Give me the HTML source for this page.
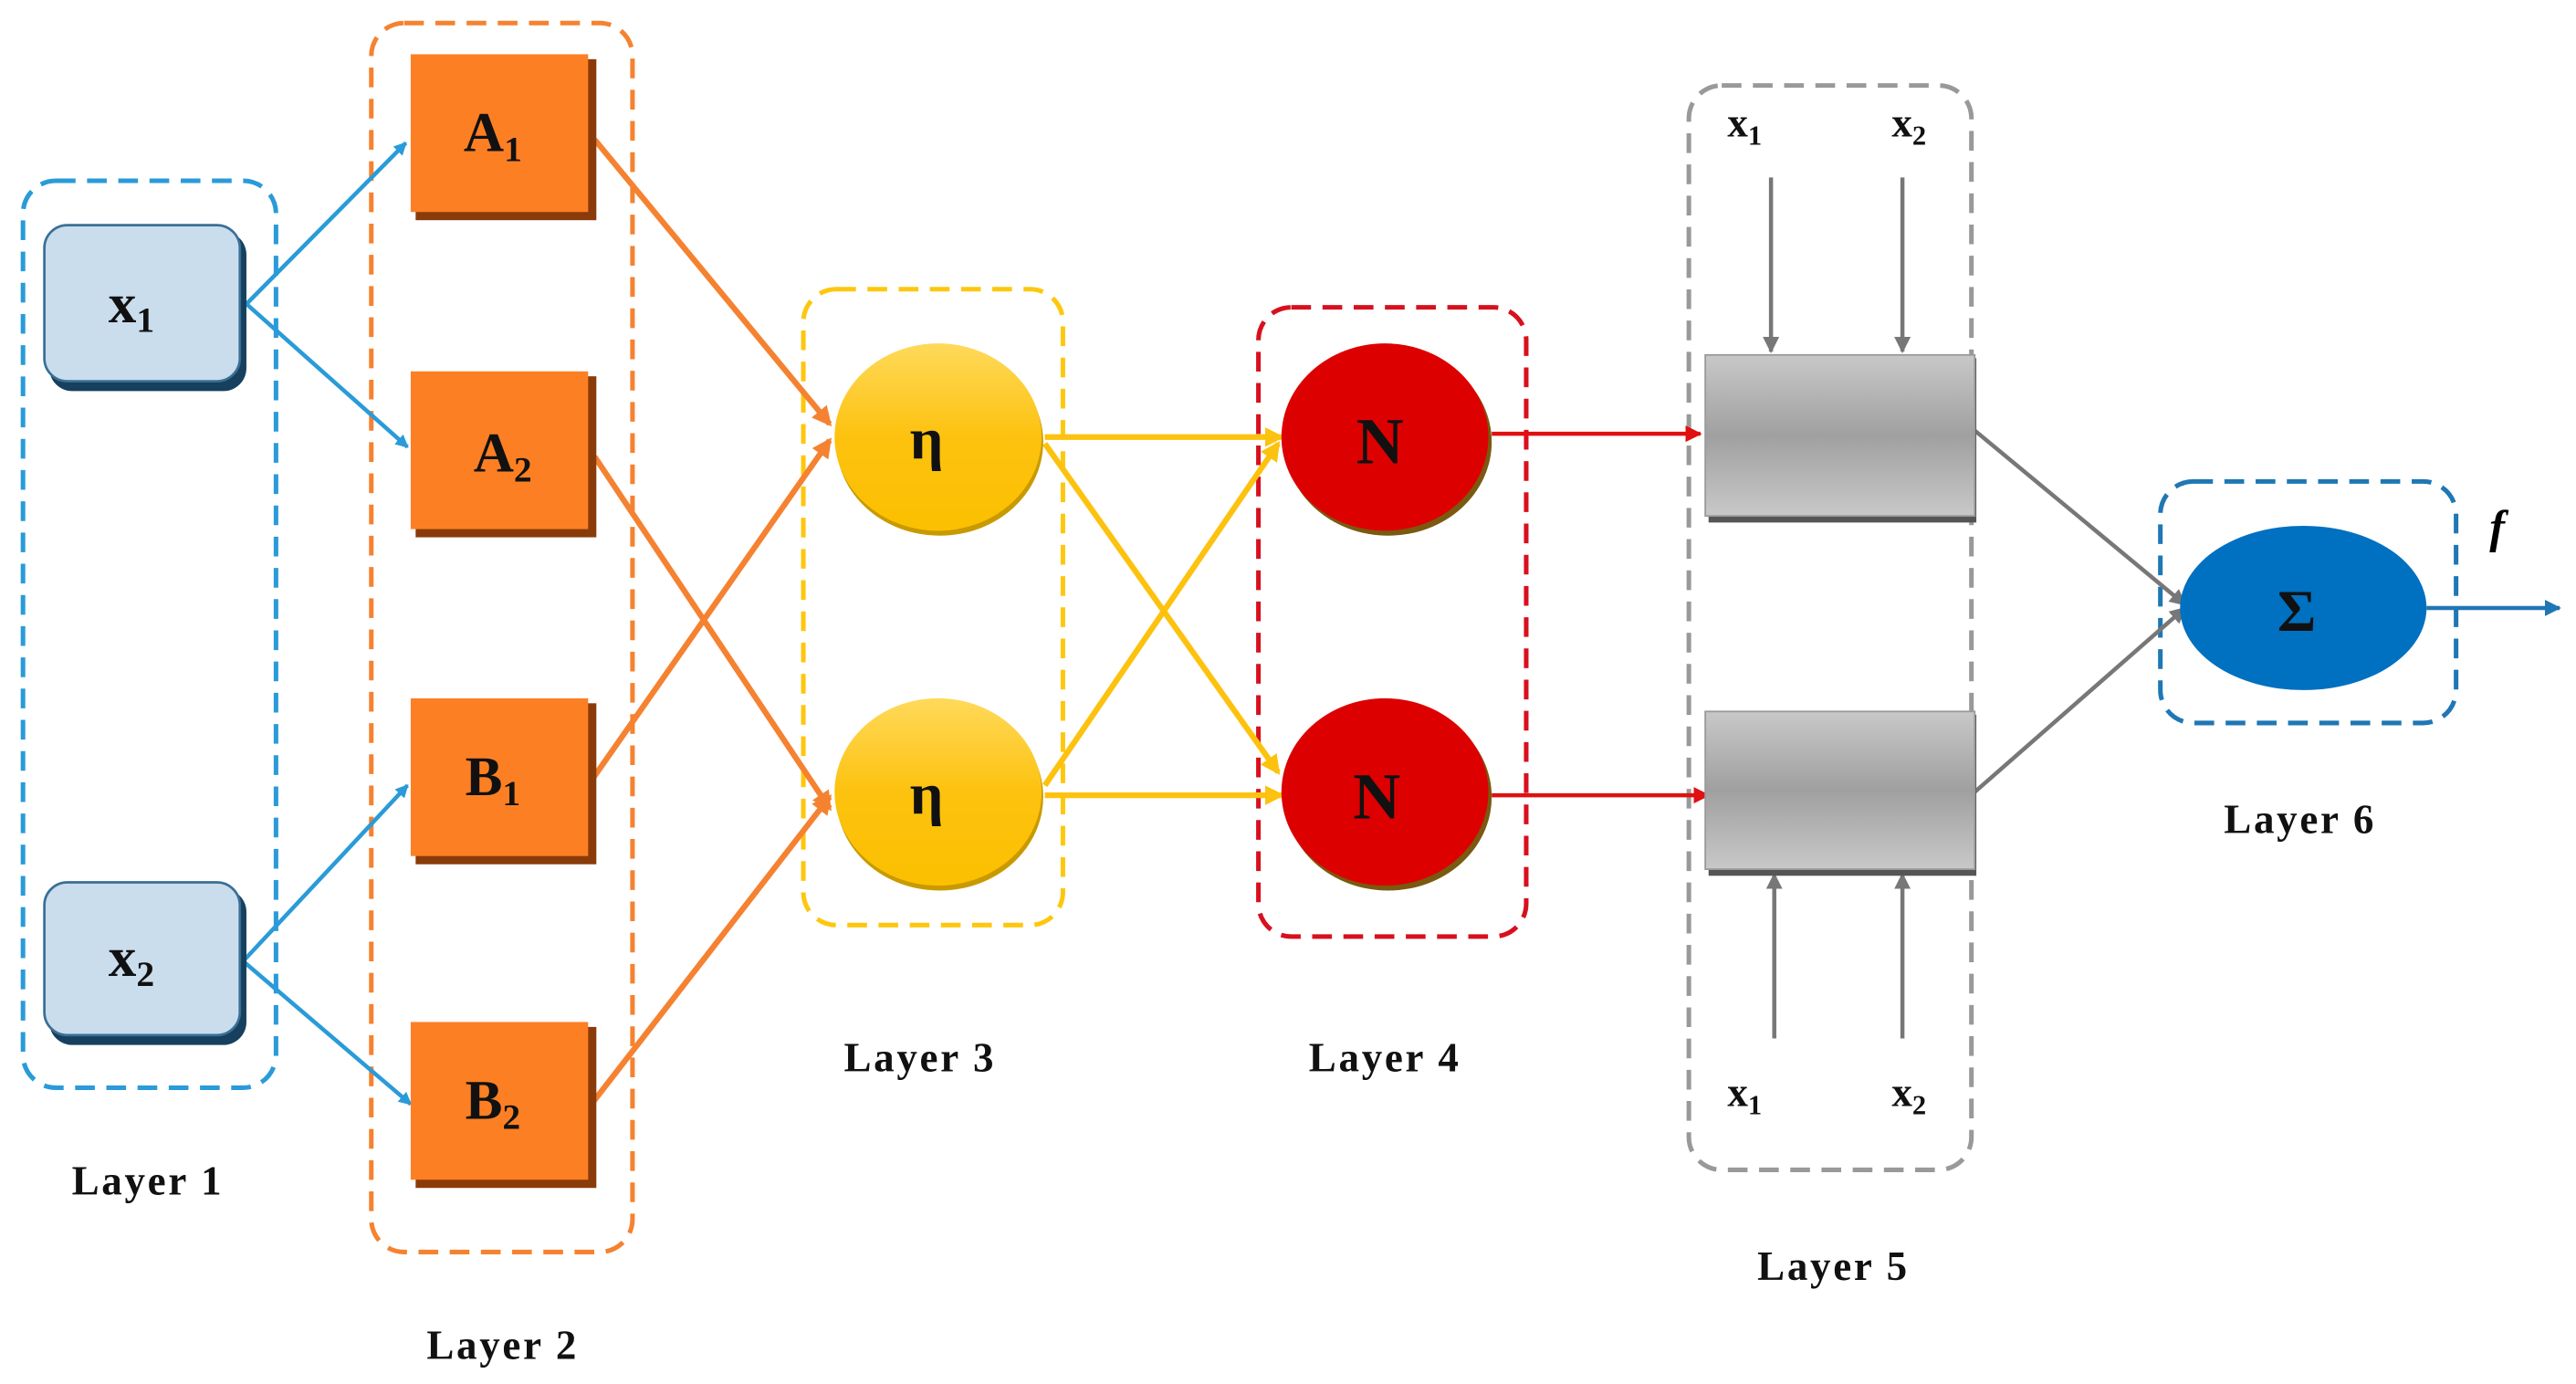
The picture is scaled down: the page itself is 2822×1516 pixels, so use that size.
<!DOCTYPE html>
<html><head><meta charset="utf-8"><style>html,body{margin:0;padding:0;background:#fff}svg{display:block}</style></head>
<body>
<svg width="2822" height="1516" viewBox="0 0 1568 842.3" xmlns="http://www.w3.org/2000/svg" font-family="Liberation Serif, serif" font-weight="bold">
<defs>
<marker id="ab" markerWidth="8" markerHeight="8" refX="7" refY="4" orient="auto" markerUnits="userSpaceOnUse"><path d="M0,0 L8,4 L0,8 z" fill="#2a9bd8"/></marker>
<marker id="ao" markerWidth="12" markerHeight="12" refX="10" refY="6" orient="auto" markerUnits="userSpaceOnUse"><path d="M0,0 L12,6 L0,12 z" fill="#f58231"/></marker>
<marker id="ay" markerWidth="12" markerHeight="12" refX="10" refY="6" orient="auto" markerUnits="userSpaceOnUse"><path d="M0,0 L12,6 L0,12 z" fill="#fdc20f"/></marker>
<marker id="ar" markerWidth="10" markerHeight="10" refX="9" refY="5" orient="auto" markerUnits="userSpaceOnUse"><path d="M0,0 L10,5 L0,10 z" fill="#e01010"/></marker>
<marker id="ag" markerWidth="10" markerHeight="10" refX="9" refY="5" orient="auto" markerUnits="userSpaceOnUse"><path d="M0,0 L10,5 L0,10 z" fill="#777"/></marker>
<marker id="ad" markerWidth="10" markerHeight="10" refX="9" refY="5" orient="auto" markerUnits="userSpaceOnUse"><path d="M0,0 L10,5 L0,10 z" fill="#1f77b4"/></marker>
<linearGradient id="gy" x1="0" y1="0" x2="0" y2="1"><stop offset="0" stop-color="#ffd95a"/><stop offset="0.5" stop-color="#fdc20f"/><stop offset="1" stop-color="#fbc000"/></linearGradient>
<linearGradient id="gg" x1="0" y1="0" x2="0" y2="1"><stop offset="0" stop-color="#c8c8c8"/><stop offset="0.5" stop-color="#a0a0a0"/><stop offset="1" stop-color="#c8c8c8"/></linearGradient>
</defs>
<g fill="none" stroke-width="2.8" stroke-dasharray="12,7">
<rect x="14" y="110" width="154" height="552" rx="20" stroke="#2a9bd8"/>
<rect x="226" y="14" width="159" height="748" rx="20" stroke="#f58231"/>
<rect x="489" y="176" width="158" height="387" rx="20" stroke="#fdc70f"/>
<rect x="766" y="187" width="163" height="383" rx="20" stroke="#d8101e"/>
<rect x="1028" y="52" width="172" height="660" rx="20" stroke="#999"/>
<rect x="1315" y="293" width="180" height="147" rx="20" stroke="#1f77b4"/>
</g>
<g stroke-width="2.5" fill="none">
<line x1="150" y1="185" x2="247" y2="87" stroke="#2a9bd8" marker-end="url(#ab)"/>
<line x1="150" y1="185" x2="248" y2="272" stroke="#2a9bd8" marker-end="url(#ab)"/>
<line x1="148" y1="585" x2="248" y2="478" stroke="#2a9bd8" marker-end="url(#ab)"/>
<line x1="148" y1="585" x2="250" y2="672" stroke="#2a9bd8" marker-end="url(#ab)"/>
<g stroke="#f58231" stroke-width="3.5">
<line x1="362" y1="85" x2="505" y2="258" marker-end="url(#ao)"/>
<line x1="362" y1="278" x2="505" y2="492" marker-end="url(#ao)"/>
<line x1="360" y1="475" x2="505" y2="268" marker-end="url(#ao)"/>
<line x1="360" y1="672" x2="505" y2="485" marker-end="url(#ao)"/>
</g>
<g stroke="#fdc20f" stroke-width="3.5">
<line x1="636" y1="266" x2="780" y2="266" marker-end="url(#ay)"/>
<line x1="636" y1="270" x2="778" y2="470" marker-end="url(#ay)"/>
<line x1="636" y1="484" x2="780" y2="484" marker-end="url(#ay)"/>
<line x1="636" y1="478" x2="778" y2="270" marker-end="url(#ay)"/>
</g>
<line x1="908" y1="264" x2="1035" y2="264" stroke="#e01010" marker-end="url(#ar)"/>
<line x1="908" y1="484" x2="1040" y2="484" stroke="#e01010" marker-end="url(#ar)"/>
<g stroke="#777">
<line x1="1202" y1="262" x2="1330" y2="368" marker-end="url(#ag)"/>
<line x1="1202" y1="482" x2="1330" y2="370" marker-end="url(#ag)"/>
<line x1="1078" y1="108" x2="1078" y2="214" marker-end="url(#ag)"/>
<line x1="1158" y1="108" x2="1158" y2="214" marker-end="url(#ag)"/>
<line x1="1080" y1="632" x2="1080" y2="532" marker-end="url(#ag)"/>
<line x1="1158" y1="632" x2="1158" y2="532" marker-end="url(#ag)"/>
</g>
<line x1="1477" y1="370" x2="1558" y2="370" stroke="#1f77b4" marker-end="url(#ad)"/>
</g>
<rect x="30" y="141" width="120" height="97" rx="14" fill="#17405e"/>
<rect x="27" y="137" width="119" height="95" rx="14" fill="#c9dded" stroke="#3a6f95" stroke-width="1.5"/>
<rect x="30" y="541" width="120" height="95" rx="14" fill="#17405e"/>
<rect x="27" y="537" width="119" height="93" rx="14" fill="#c9dded" stroke="#3a6f95" stroke-width="1.5"/>
<g fill="#8a3b0a">
<rect x="253" y="36" width="110" height="98"/><rect x="253" y="229" width="110" height="98"/>
<rect x="253" y="428" width="110" height="98"/><rect x="253" y="625" width="110" height="98"/>
</g>
<g fill="#fd7f23">
<rect x="250" y="33" width="108" height="96"/><rect x="250" y="226" width="108" height="96"/>
<rect x="250" y="425" width="108" height="96"/><rect x="250" y="622" width="108" height="96"/>
</g>
<ellipse cx="572" cy="269" rx="63" ry="57" fill="#c89a00"/>
<ellipse cx="571" cy="266" rx="63" ry="57" fill="url(#gy)"/>
<ellipse cx="572" cy="485" rx="63" ry="57" fill="#c89a00"/>
<ellipse cx="571" cy="482" rx="63" ry="57" fill="url(#gy)"/>
<ellipse cx="845" cy="269" rx="63" ry="57" fill="#7a5a10"/>
<ellipse cx="843" cy="266" rx="63" ry="57" fill="#dd0000"/>
<ellipse cx="845" cy="485" rx="63" ry="57" fill="#7a5a10"/>
<ellipse cx="843" cy="482" rx="63" ry="57" fill="#dd0000"/>
<rect x="1040" y="218" width="163" height="100" fill="#555"/>
<rect x="1038" y="216" width="164" height="98" fill="url(#gg)" stroke="#999" stroke-width="1"/>
<rect x="1040" y="435" width="163" height="98" fill="#555"/>
<rect x="1038" y="433" width="164" height="96" fill="url(#gg)" stroke="#999" stroke-width="1"/>
<ellipse cx="1402" cy="370" rx="75" ry="50" fill="#0070c0"/>
<g font-size="34" text-anchor="middle" fill="#111">
<text x="80" y="196">x<tspan font-size="22" dy="6">1</tspan></text>
<text x="80" y="594">x<tspan font-size="22" dy="6">2</tspan></text>
<text x="300" y="92">A<tspan font-size="22" dy="6">1</tspan></text>
<text x="306" y="287">A<tspan font-size="22" dy="6">2</tspan></text>
<text x="300" y="484">B<tspan font-size="22" dy="6">1</tspan></text>
<text x="300" y="681">B<tspan font-size="22" dy="6">2</tspan></text>
<text x="564" y="279" font-size="36">η</text>
<text x="564" y="495" font-size="36">η</text>
<text x="840" y="282" font-size="40">N</text>
<text x="838" y="498" font-size="40">N</text>
<text x="1398" y="384" font-size="36">Σ</text>
</g>
<g font-size="25" fill="#111" font-weight="bold" text-anchor="middle">
<text x="1062" y="83">x<tspan font-size="17" dy="5">1</tspan></text>
<text x="1162" y="83">x<tspan font-size="17" dy="5">2</tspan></text>
<text x="1062" y="673">x<tspan font-size="17" dy="5">1</tspan></text>
<text x="1162" y="673">x<tspan font-size="17" dy="5">2</tspan></text>
</g>
<text x="1520" y="330" font-size="28" font-style="italic" text-anchor="middle">f</text>
<g font-size="25" text-anchor="middle" fill="#111" letter-spacing="1.5">
<text x="90" y="727">Layer 1</text>
<text x="306" y="827">Layer 2</text>
<text x="560" y="652">Layer 3</text>
<text x="843" y="652">Layer 4</text>
<text x="1116" y="779">Layer 5</text>
<text x="1400" y="507">Layer 6</text>
</g>
</svg>
</body></html>
